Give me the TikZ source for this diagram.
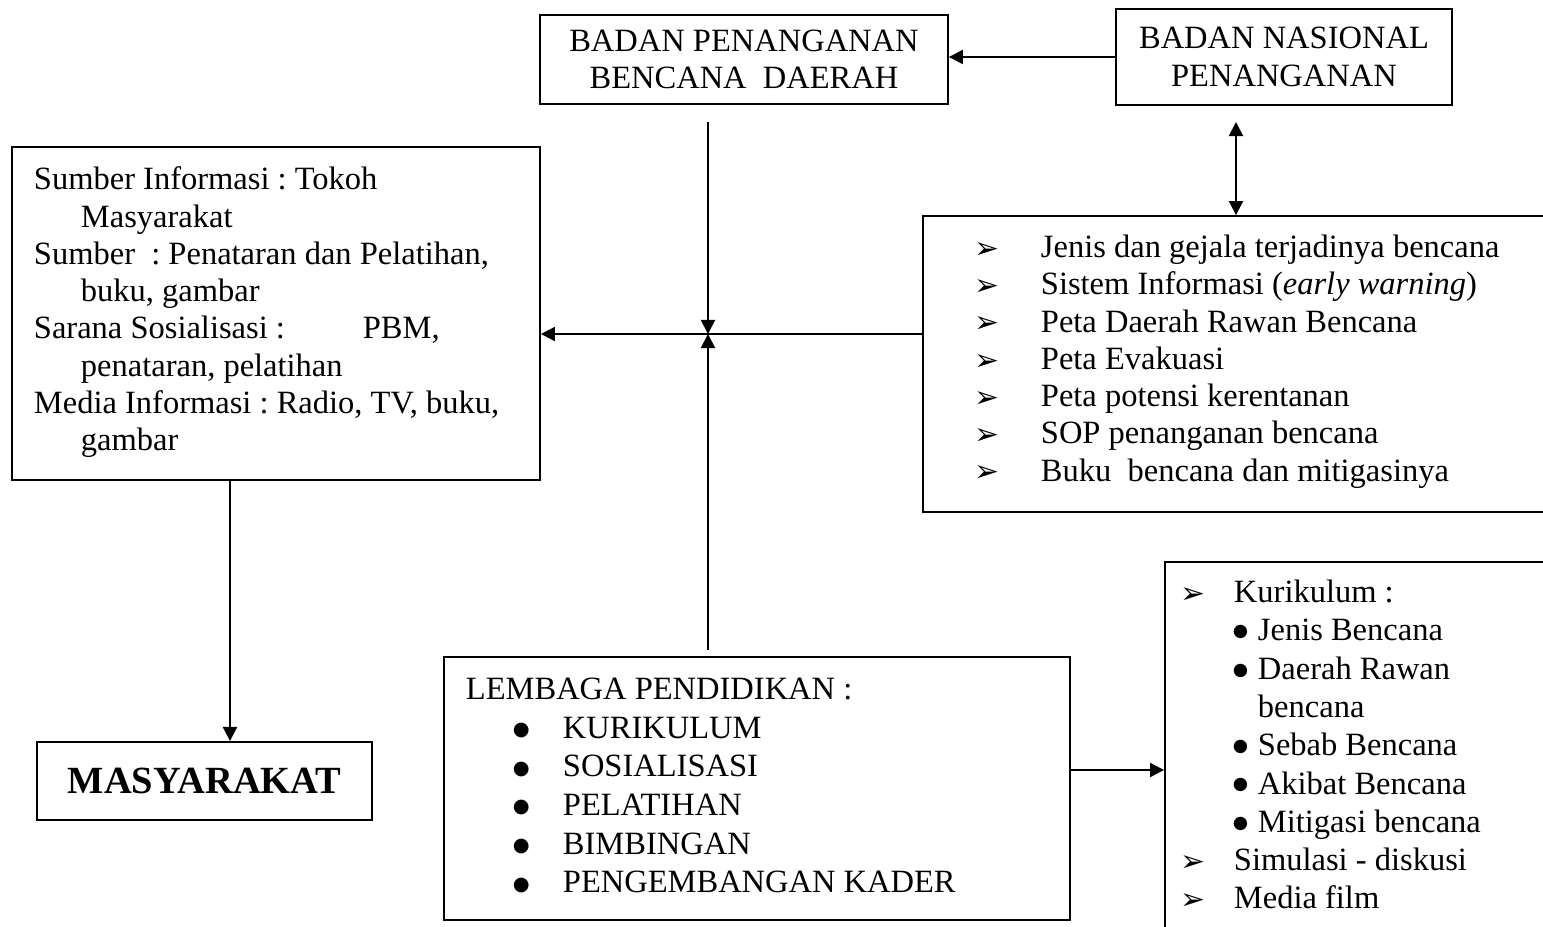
\documentclass[tikz,border=0pt]{standalone}
\usepackage{fontspec}
\setmainfont{Liberation Serif}
\newfontfamily\dingfont{DejaVu Sans}
\usetikzlibrary{arrows.meta}
\frenchspacing
\newcommand{\arrbul}[1][1.0cm]{\makebox[#1][l]{\hspace*{-2pt}\raisebox{-0.5pt}{\fontsize{17}{17}\dingfont ➢}}}
\newcommand{\dotbul}[3][0.5cm]{\makebox[#1][l]{\raisebox{#3}{\fontsize{#2}{#2}\dingfont ●}}}
\tikzset{
  box/.style={draw,line width=1.1pt,inner sep=0pt},
  txt/.style={anchor=north west,align=left,inner sep=0pt},
  body/.style={font=\fontsize{18.5}{21.2}\selectfont},
}

\begin{document}
\begin{tikzpicture}[x=0.02cm,y=-0.02cm,>={Triangle[length=8pt,width=8pt]},line width=1.1pt]
\useasboundingbox (0,0) rectangle (1543,927);
\clip (0,0) rectangle (1543,927);
\node[box,body,align=center,minimum width=8.16cm,minimum height=1.78cm] (bpbd) at (744,59.5) {BADAN PENANGANAN\\BENCANA\ \ DAERAH};
\node[box,body,align=center,minimum width=6.72cm,minimum height=1.92cm] (bnp) at (1284,57) {BADAN NASIONAL\\PENANGANAN};
\node[box,minimum width=12.74cm,minimum height=5.92cm] (info) at (1241.5,364) {};
\node[box,minimum width=10.56cm,minimum height=6.66cm] (sumber) at (276,313.5) {};
\node[box,font=\fontsize{21.9}{24}\selectfont\bfseries,minimum width=6.7cm,minimum height=1.56cm] (masy) at (204.5,781) {MASYARAKAT};
\node[box,minimum width=12.52cm,minimum height=5.26cm] (lembaga) at (757,788.5) {};
\node[box,minimum width=7.9cm,minimum height=7.76cm] (kur) at (1362.5,756) {};

\node[txt,body] (sumbertxt) at (33,166) {Sumber Informasi : Tokoh\\
  \hspace*{0.94cm}Masyarakat\\
  Sumber\ \ : Penataran dan Pelatihan,\\
  \hspace*{0.94cm}buku, gambar\\
  \makebox[6.58cm][l]{Sarana Sosialisasi :}PBM,\\
  \hspace*{0.94cm}penataran, pelatihan\\
  Media Informasi : Radio, TV, buku,\\
  \hspace*{0.94cm}gambar};
\node[txt,body] (infotxt) at (977,234) {\arrbul[1.26cm]Jenis dan gejala terjadinya bencana\\
  \arrbul[1.26cm]Sistem Informasi (\textit{early warning})\\
  \arrbul[1.26cm]Peta Daerah Rawan Bencana\\
  \arrbul[1.26cm]Peta Evakuasi\\
  \arrbul[1.26cm]Peta potensi kerentanan\\
  \arrbul[1.26cm]SOP penanganan bencana\\
  \arrbul[1.26cm]Buku\ \ bencana dan mitigasinya};
\node[txt,font=\fontsize{18.5}{22}\selectfont] (lembagatxt) at (465,677) {LEMBAGA PENDIDIKAN :\\
  \hspace*{0.94cm}\dotbul[1.0cm]{11}{1.5pt}KURIKULUM\\
  \hspace*{0.94cm}\dotbul[1.0cm]{11}{1.5pt}SOSIALISASI\\
  \hspace*{0.94cm}\dotbul[1.0cm]{11}{1.5pt}PELATIHAN\\
  \hspace*{0.94cm}\dotbul[1.0cm]{11}{1.5pt}BIMBINGAN\\
  \hspace*{0.94cm}\dotbul[1.0cm]{11}{1.5pt}PENGEMBANGAN KADER};
\node[txt,font=\fontsize{18.5}{21.8}\selectfont] (kurtxt) at (1183,579) {\arrbul Kurikulum :\\
  \hspace*{0.98cm}\dotbul{10}{2.3pt}Jenis Bencana\\
  \hspace*{0.98cm}\dotbul{10}{2.3pt}Daerah Rawan\\
  \hspace*{1.48cm}bencana\\
  \hspace*{0.98cm}\dotbul{10}{2.3pt}Sebab Bencana\\
  \hspace*{0.98cm}\dotbul{10}{2.3pt}Akibat Bencana\\
  \hspace*{0.98cm}\dotbul{10}{2.3pt}Mitigasi bencana\\
  \arrbul Simulasi - diskusi\\
  \arrbul Media film};

\coordinate (hub) at (708,334);
\coordinate (bpbdgap) at (708,122);
\coordinate (lembagagap) at (708,650);
\coordinate (bnpgap) at (1236,122);
\coordinate (sdown) at (230,0);
\coordinate (kurlink) at (0,770);
\draw[->] (bnp.west) -- (bnp.west -| bpbd.east);
\draw[<->] (bnpgap) -- (bnpgap |- info.north);
\draw[->] (info.west |- hub) -- (sumber.east |- hub);
\draw[->] (bpbdgap) -- (hub);
\draw[->] (lembagagap) -- (hub);
\draw[->] (sumber.south -| sdown) -- (masy.north -| sdown);
\draw[->] (lembaga.east |- kurlink) -- (kur.west |- kurlink);
\end{tikzpicture}
\end{document}
